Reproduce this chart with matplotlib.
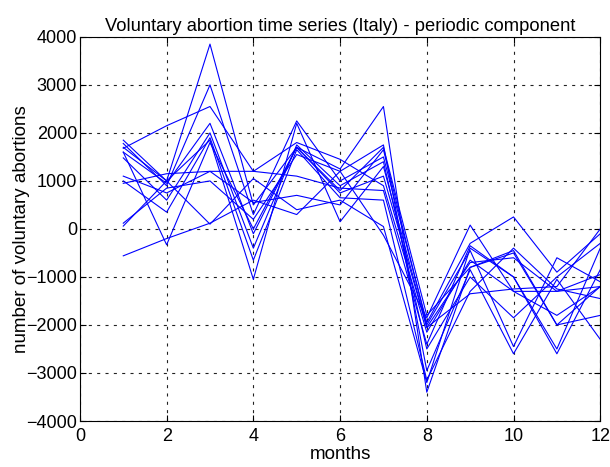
import matplotlib
matplotlib.use('Agg')
import matplotlib.pyplot as plt
import numpy as np

plt.rcParams['font.family'] = ['Liberation Sans', 'DejaVu Sans']
plt.rcParams['lines.scale_dashes'] = False

months = np.arange(1, 13)

# periodic component, one row per year
series = [
    [1850, 1000, 3850, 500, 1700, 800, 1700, -1800, -800, -450, -2000, -1200],
    [1780, 900, 3000, 300, 2250, 1000, 1500, -1950, -300, 250, -900, -100],
    [1680, 2150, 2550, 1200, 1800, 1450, 900, -2150, -650, -1300, -1300, -1200],
    [1600, 950, 2200, -100, 1700, 1250, 2550, -3400, -800, -500, -2000, -1800],
    [1480, 600, 2000, -400, 1750, 900, 1400, -2500, -1000, -1850, -1000, -300],
    [1100, 750, 1200, 1200, 1100, 850, 800, -2400, -350, -1000, -2500, -400],
    [1000, 350, 1900, -650, 1650, 650, 600, -3150, -1300, -400, -1250, -1450],
    [950, 1150, 1200, 550, 700, 500, 1650, -2000, -450, -2450, -600, -1100],
    [120, 850, 1000, 200, 1550, 1200, 1750, -2950, -850, -2600, -1050, -2300],
    [60, 1000, 100, 1050, 400, 600, 50, -3200, -400, -1000, -2600, -850],
    [-560, -200, 120, 600, 300, 1200, -130, -1850, 80, -1300, -1800, -1200],
    [1600, -330, 1800, 0, 1700, 750, 1100, -2050, -1350, -1250, -1200, 0],
    [1700, 1000, 1850, -1050, 2200, 150, 1300, -2050, -700, -600, -1300, -950],
]

fig = plt.figure(figsize=(6.1, 4.67), dpi=100)
ax = fig.add_axes([0.131, 0.0985, 0.853, 0.8225])

for s in series:
    ax.plot(months, s, color='#0000ff', lw=0.8)

ax.set_xlim(0, 12)
ax.set_ylim(-4000, 4000)
ax.set_xticks(range(0, 13, 2))
ax.set_yticks(range(-4000, 4001, 1000))
ax.grid(True, color='#222222', linestyle=(0, (2.2, 3.8)), lw=0.8)
ax.tick_params(direction='in', top=True, right=True, labelsize=13, length=4, pad=2)
ax.tick_params(axis='x', pad=5)
for sp in ax.spines.values():
    sp.set_linewidth(0.8)

ax.set_title('Voluntary abortion time series (Italy) - periodic component', fontsize=13.2, pad=4)
ax.set_xlabel('months', fontsize=13.5)
ax.set_ylabel('number of voluntary abortions', fontsize=13.5)
ax.xaxis.set_label_coords(0.5, -0.066)
ax.yaxis.set_label_coords(-0.095, 0.5)

fig.savefig('out.png', dpi=100)
